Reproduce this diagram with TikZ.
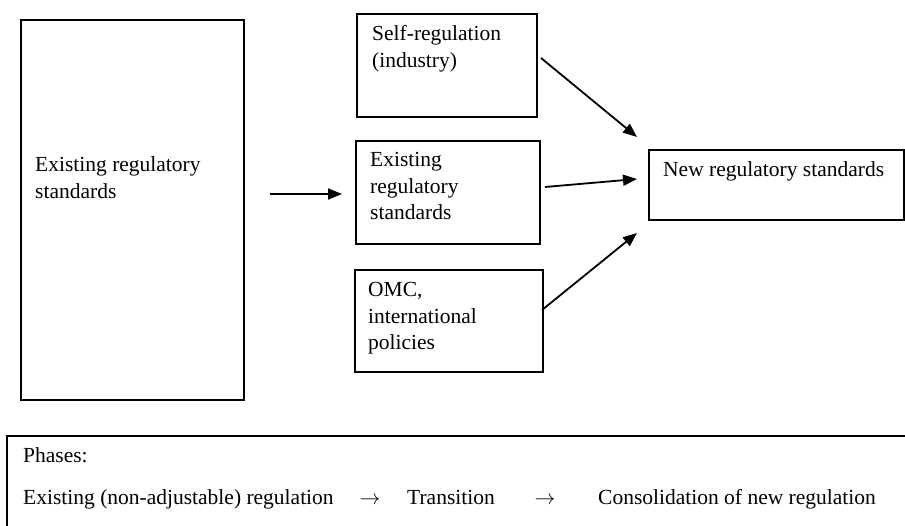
\documentclass[tikz,border=0pt]{standalone}
\usepackage{fontspec}
\setmainfont{Liberation Serif}
\usetikzlibrary{arrows.meta}
\begin{document}
\begin{tikzpicture}[x=1pt,y=-1pt,
  box/.style={draw, line width=1.6pt, inner sep=0pt, anchor=north west},
  txt/.style={anchor=base west, inner sep=0pt, font=\fontsize{21.5}{26.5}\selectfont},
  conn/.style={line width=1.8pt, -{Triangle[length=14pt,width=11pt]}}]
\useasboundingbox (0,0) rectangle (905,526);
% boxes
\node[box, minimum width=223pt, minimum height=380pt] (big) at (20,19) {};
\node[box, minimum width=180pt, minimum height=103pt] (self) at (356,13) {};
\node[box, minimum width=184pt, minimum height=103pt] (mid) at (355,140) {};
\node[box, minimum width=188pt, minimum height=102pt] (omc) at (354,269) {};
\node[box, minimum width=255pt, minimum height=70pt] (new) at (648,149) {};
\begin{scope}
\clip (0,0) rectangle (905,526);
\node[box, minimum width=950pt, minimum height=150pt] (phases) at (6,435) {};
\end{scope}
% texts
\node[txt] (tbig) at (35,172) {\begin{tabular}[t]{@{}l@{}}Existing regulatory\\standards\end{tabular}};
\node[txt] (tself) at (372,41) {\begin{tabular}[t]{@{}l@{}}Self-regulation\\(industry)\end{tabular}};
\node[txt] (tmid) at (370,167) {\begin{tabular}[t]{@{}l@{}}Existing\\regulatory\\standards\end{tabular}};
\node[txt] (tomc) at (368,297) {\begin{tabular}[t]{@{}l@{}}OMC,\\international\\policies\end{tabular}};
\node[txt] (tnew) at (663,177) {New regulatory standards};
\node[txt] (tph) at (23,462) {Phases:};
\node[txt] (p1) at (23,504) {Existing (non-adjustable) regulation};
\node[txt, anchor=base] (r1) at (370,504) {\(\rightarrow\)};
\node[txt] (p2) at (407,504) {Transition};
\node[txt, anchor=base] (r2) at (545,504) {\(\rightarrow\)};
\node[txt] (p3) at (598,504) {Consolidation of new regulation};
% connector ends
\coordinate (a0s) at (270,194);
\coordinate (a0e) at (342,194);
\coordinate (a1s) at (541,58);
\coordinate (a1e) at (637,137);
\coordinate (a2s) at (545,187);
\coordinate (a2e) at (637,179);
\coordinate (a3s) at (542,310);
\coordinate (a3e) at (637,233);
\draw[conn] (a0s) -- (a0e);
\draw[conn] (a1s) -- (a1e);
\draw[conn] (a2s) -- (a2e);
\draw[conn] (a3s) -- (a3e);
\end{tikzpicture}
\end{document}
